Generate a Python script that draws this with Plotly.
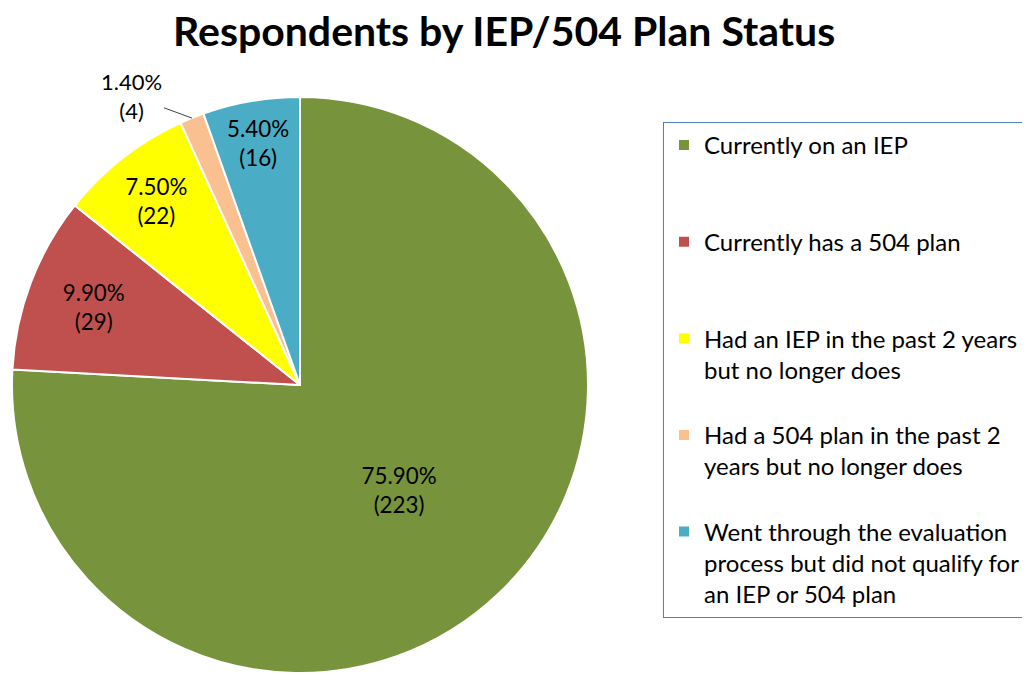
import math
import plotly.graph_objects as go

# Survey counts by plan status
categories = [
    "Currently on an IEP",
    "Currently has a 504 plan",
    "Had an IEP in the past 2 years<br>but no longer does",
    "Had a 504 plan in the past 2<br>years but no longer does",
    "Went through the evaluation<br>process but did not qualify for<br>an IEP or 504 plan",
]
counts = [223, 29, 22, 4, 16]
pct_labels = ["75.90%", "9.90%", "7.50%", "1.40%", "5.40%"]
colors = ["#77933C", "#C0504D", "#FFFF00", "#FAC090", "#4BACC6"]
title_text = "Respondents by IEP/504 Plan Status"

# pad legend entries to three lines so the spacing matches the original
legend_names = []
for c in categories:
    n = c.count("<br>") + 1
    legend_names.append(c + "<br> " * (3 - n))

texts = [f"{p}<br>({c})" for p, c in zip(pct_labels, counts)]
positions = ["inside", "inside", "inside", "none", "inside"]

W, H, TOP = 1030, 675, 60
PH = H - TOP  # plot area height

# page body has an 8px margin, so shift everything up/left by 8
dom_x = [4 / W, 580 / W]
dom_y = [1 - (665 - TOP) / PH, 1 - (89 - TOP) / PH]

fig = go.Figure(go.Pie(
    labels=legend_names,
    values=counts,
    text=texts,
    textinfo="text",
    textposition=positions,
    insidetextorientation="horizontal",
    textfont=dict(size=24, color="black", family="Lato"),
    marker=dict(colors=colors, line=dict(color="white", width=2)),
    sort=False,
    direction="clockwise",
    rotation=0,
    domain=dict(x=dom_x, y=dom_y),
    hoverinfo="label+value",
))

# leader line for the small slice
cx = (dom_x[0] + dom_x[1]) / 2
cy = (dom_y[0] + dom_y[1]) / 2
rx = (dom_x[1] - dom_x[0]) / 2
ry = (dom_y[1] - dom_y[0]) / 2
i = 3
mid = (sum(counts[:i]) + counts[i] / 2) / sum(counts)
ang = 2 * math.pi * mid
fig.add_annotation(
    x=cx + rx * math.sin(ang), y=cy + ry * math.cos(ang),
    xref="paper", yref="paper",
    text=texts[i], showarrow=True, arrowhead=0, arrowwidth=1,
    arrowcolor="#404040", ax=-60, ay=-22,
    font=dict(size=22, color="black", family="Lato"),
)

# title as an annotation in the top margin
fig.add_annotation(
    x=496 / W, y=1 + (TOP - 22) / PH, xref="paper", yref="paper",
    xanchor="center", yanchor="middle", showarrow=False,
    text=f"<b>{title_text}</b>",
    font=dict(size=41, color="black", family="Lato"),
)

fig.update_layout(
    width=W, height=H,
    margin=dict(l=0, r=0, t=TOP, b=0),
    paper_bgcolor="white",
    legend=dict(x=655 / W, y=1 - (114 - TOP) / PH, xanchor="left", yanchor="top",
                bordercolor="#4F81BD", borderwidth=1, valign="top",
                font=dict(size=24, color="black", family="Lato"),
                tracegroupgap=0, itemsizing="constant"),
    uniformtext=dict(minsize=22, mode="show"),
    font=dict(family="Lato"),
)

fig.write_html("out.html")
